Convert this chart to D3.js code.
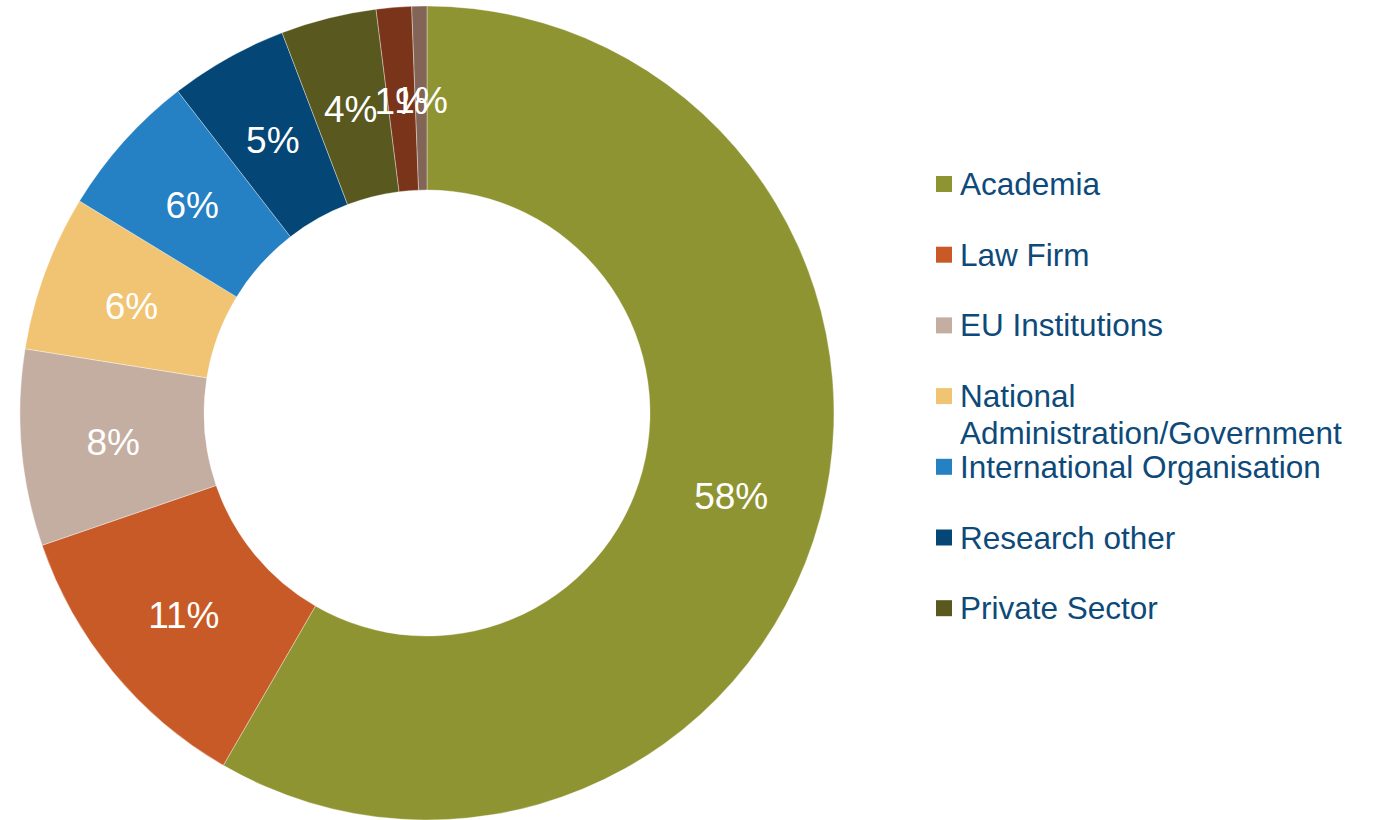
<!DOCTYPE html>
<html>
<head>
<meta charset="utf-8">
<script src="https://cdn.jsdelivr.net/npm/d3@7"></script>
<style>
  body { margin: 0; background: #fff; }
  svg { display: block; font-family: "Liberation Sans", Arial, sans-serif; }
</style>
</head>
<body>
<div id="chart"></div>
<script>
// slice data (share of respondents, %)
const categories = ["Academia", "Law Firm", "EU Institutions", "National Administration/Government",
  "International Organisation", "Research other", "Private Sector", "Other", "Not specified"];
const values = [58.4, 11.4, 7.8, 6.2, 5.8, 4.7, 3.8, 1.4, 0.6];
const colors = ["#8f9432", "#c85a27", "#c4aea2", "#f0c473", "#2580c4", "#044675", "#58581f", "#7a3419", "#826556"];
// legend only shows the first seven entries (rest was clipped in the original)
const legendCount = 7;

const width = 1375;
const height = 820;
const cx = 427, cy = 413;
const outerR = 407, innerR = 223;

const svg = d3.select("#chart").append("svg")
    .attr("width", width)
    .attr("height", height);

const data = categories.map((c, i) => ({ name: c, value: values[i], color: colors[i] }));
const total = d3.sum(values);

const pie = d3.pie().sort(null).value(d => d.value);
const arc = d3.arc().innerRadius(innerR).outerRadius(outerR);

const g = svg.append("g").attr("transform", `translate(${cx},${cy})`);

const arcs = pie(data);

g.selectAll("path")
    .data(arcs)
    .enter()
    .append("path")
    .attr("d", arc)
    .attr("fill", d => d.data.color)
    .attr("stroke", "#ffffff")
    .attr("stroke-opacity", 0.6)
    .attr("stroke-width", 0.6);

g.selectAll("text")
    .data(arcs)
    .enter()
    .append("text")
    .attr("transform", d => {
        const [x, y] = arc.centroid(d);
        return `translate(${x},${y + 2})`;
    })
    .attr("text-anchor", "middle")
    .attr("dominant-baseline", "central")
    .attr("font-size", 37)
    .attr("fill", "#ffffff")
    .text(d => Math.round(d.data.value / total * 100) + "%");

// legend
const legend = svg.append("g").attr("transform", "translate(936,184)");
const rowH = 70.7;

const items = legend.selectAll("g")
    .data(data.slice(0, legendCount))
    .enter()
    .append("g")
    .attr("transform", (d, i) => `translate(0,${i * rowH})`);

items.append("rect")
    .attr("x", 0)
    .attr("y", -8)
    .attr("width", 16)
    .attr("height", 16)
    .attr("fill", d => d.color);

items.append("text")
    .attr("x", 24)
    .attr("y", 0)
    .attr("dominant-baseline", "central")
    .attr("font-size", 31.5)
    .attr("fill", "#0d4a7a")
    .each(function(d) {
        const t = d3.select(this);
        const parts = d.name === "National Administration/Government"
            ? ["National", "Administration/Government"] : [d.name];
        parts.forEach((p, j) => {
            t.append("tspan").attr("x", 24).attr("dy", j === 0 ? 0 : 37).text(p);
        });
    });
</script>
</body>
</html>
